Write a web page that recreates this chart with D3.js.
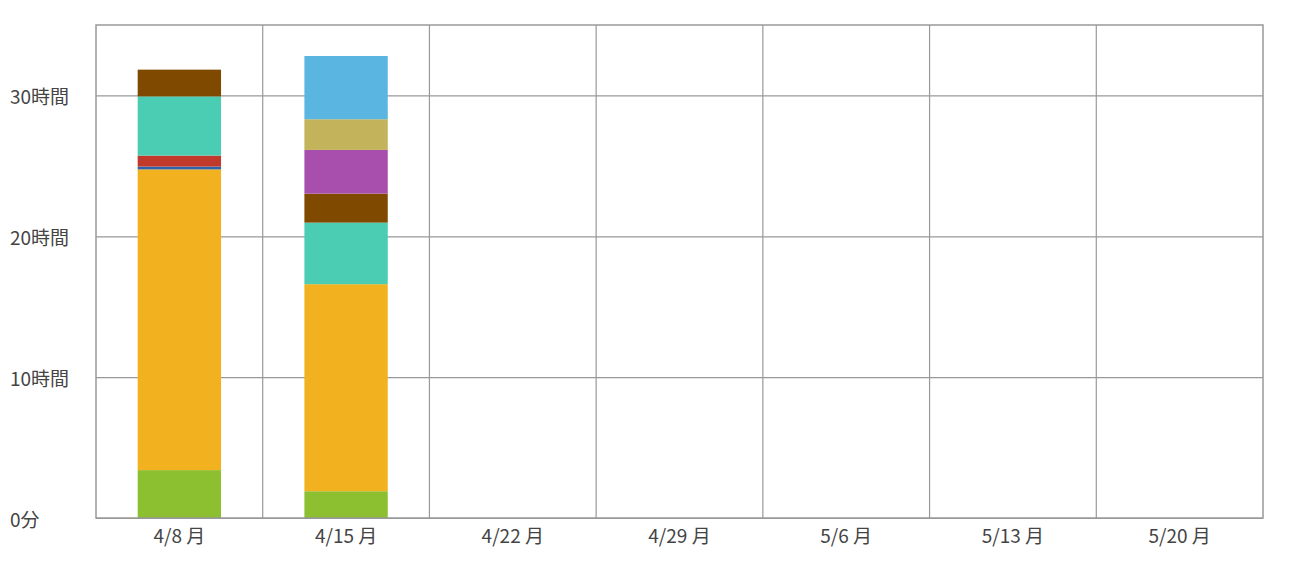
<!DOCTYPE html>
<html><head><meta charset="utf-8">
<script src="https://cdn.jsdelivr.net/npm/d3@7"></script>
<style>body{margin:0;background:#fff}svg{display:block}text{font-family:"Noto Sans CJK JP","Noto Sans",sans-serif}</style>
</head><body><svg id="c" width="1300" height="566"></svg>
<script>
const weeks = ["4/8 月","4/15 月","4/22 月","4/29 月","5/6 月","5/13 月","5/20 月"];
const seriesNames = ["s1","s2","s3","s4","s5","s6","s7","s8","s9"];
const seriesColors = ["#8dc031","#f2b21f","#2e62ad","#c0392b","#4acdb3","#7f4a00","#a84fae","#c3b35b","#5ab5e1"];
// hours per week for each series (bottom to top)
const s1 = [3.4, 1.9, 0,0,0,0,0];
const s2 = [21.35, 14.7, 0,0,0,0,0];
const s3 = [0.2, 0, 0,0,0,0,0];
const s4 = [0.78, 0, 0,0,0,0,0];
const s5 = [4.2, 4.37, 0,0,0,0,0];
const s6 = [1.9, 2.06, 0,0,0,0,0];
const s7 = [0, 3.1, 0,0,0,0,0];
const s8 = [0, 2.18, 0,0,0,0,0];
const s9 = [0, 4.49, 0,0,0,0,0];
const yTicks = [0,10,20,30];
const yTickLabels = ["0分","10時間","20時間","30時間"];

const seriesVals = [s1,s2,s3,s4,s5,s6,s7,s8,s9];
const rows = weeks.map((w,i)=>{const r={week:w}; seriesNames.forEach((n,j)=>r[n]=seriesVals[j][i]); return r;});
const stack = d3.stack().keys(seriesNames)(rows);

const svg = d3.select("#c");
const L=96, R=1263, T=25, B=518;
const x = d3.scaleBand().domain(weeks).range([L,R]).paddingInner(0).paddingOuter(0);
const y = d3.scaleLinear().domain([0,35]).range([B,T]);
const gridColor="#999";

// horizontal grid
svg.append("g").selectAll("line").data(yTicks).join("line")
  .attr("x1",L).attr("x2",R).attr("y1",d=>y(d)+0.5).attr("y2",d=>y(d)+0.5)
  .attr("stroke",gridColor).attr("stroke-width",1.2);
// vertical grid
svg.append("g").selectAll("line").data(weeks.slice(1)).join("line")
  .attr("x1",d=>x(d)).attr("x2",d=>x(d)).attr("y1",T).attr("y2",B)
  .attr("stroke",gridColor).attr("stroke-width",1.2);

// bars
const bw = x.bandwidth()*0.5;
svg.append("g").selectAll("g").data(stack).join("g")
  .attr("fill",(d,i)=>seriesColors[i])
  .selectAll("rect").data(d=>d.filter(p=>p[1]-p[0]>0)).join("rect")
  .attr("x",d=>x(d.data.week)+(x.bandwidth()-bw)/2)
  .attr("width",bw)
  .attr("y",d=>y(d[1]))
  .attr("height",d=>y(d[0])-y(d[1]));

// frame
svg.append("rect").attr("x",L).attr("y",T).attr("width",R-L).attr("height",B-T)
  .attr("fill","none").attr("stroke",gridColor).attr("stroke-width",1.5);

// y labels
svg.append("g").selectAll("text").data(yTicks).join("text")
  .attr("x",10).attr("y",d=>y(d)+9)
  .attr("font-size",19).attr("fill","#444")
  .text((d,i)=>yTickLabels[i]);

// x labels
svg.append("g").selectAll("text").data(weeks).join("text")
  .attr("x",d=>x(d)+x.bandwidth()/2).attr("y",543)
  .attr("text-anchor","middle").attr("font-size",19).attr("fill","#444")
  .text(d=>d);
</script></body></html>
